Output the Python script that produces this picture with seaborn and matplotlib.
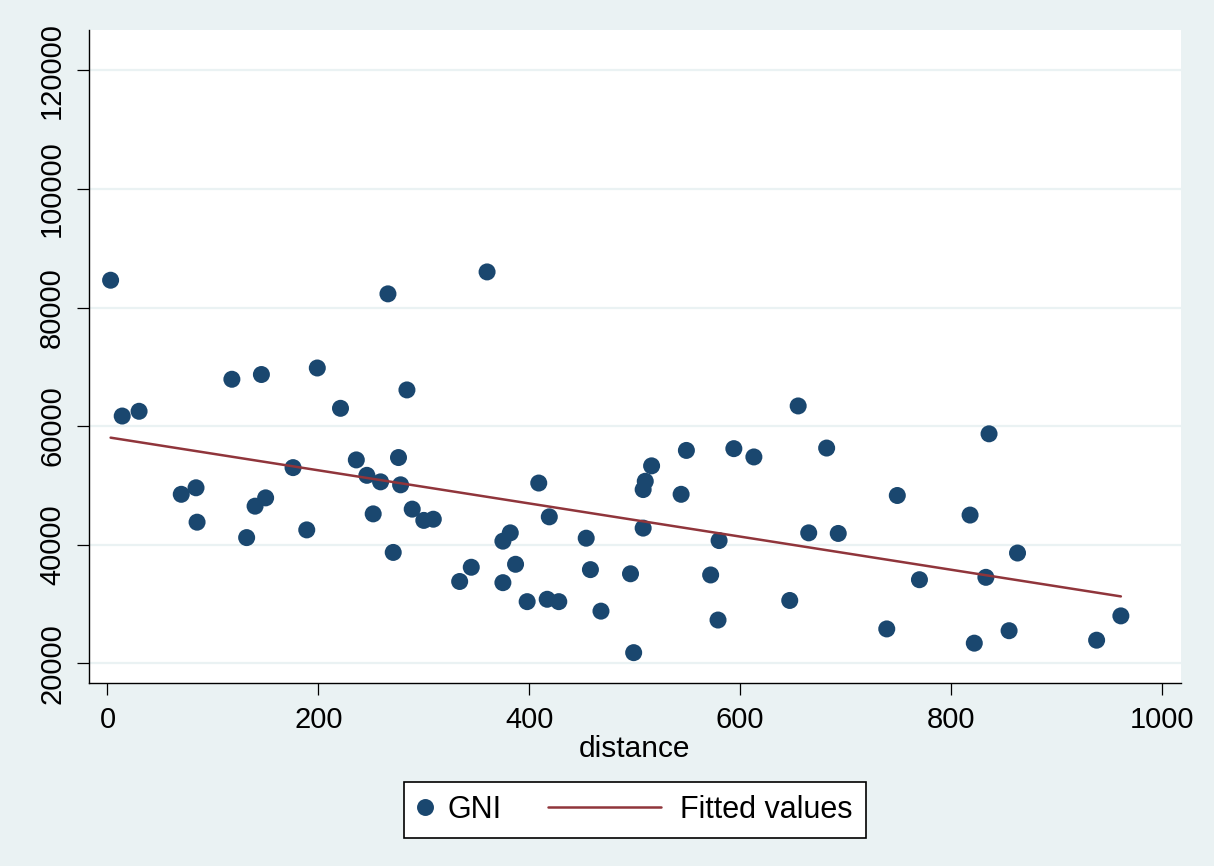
import numpy as np
import pandas as pd
import matplotlib
matplotlib.use("Agg")
import matplotlib.pyplot as plt
import seaborn as sns
from matplotlib.lines import Line2D
from matplotlib.legend_handler import HandlerLine2D

# ---- data ----
distance = [3, 14, 30, 70, 84, 85, 118, 132, 140, 146,
            150, 176, 189, 199, 221, 236, 246, 252, 259, 266,
            271, 276, 278, 284, 289, 300, 309, 334, 345, 360,
            375, 375, 382, 387, 398, 409, 417, 419, 428, 454,
            458, 468, 496, 499, 508, 508, 510, 516, 544, 549,
            572, 579, 580, 594, 613, 647, 655, 665, 682, 693,
            739, 749, 770, 818, 822, 833, 836, 855, 863, 938,
            961]
gni = [84600, 61700, 62500, 48500, 49600, 43800, 67900, 41200, 46500, 68700,
       47900, 53000, 42500, 69800, 63000, 54300, 51700, 45200, 50600, 82300,
       38700, 54700, 50100, 66100, 46000, 44100, 44300, 33800, 36200, 86000,
       40600, 33600, 42000, 36700, 30400, 50400, 30800, 44700, 30400, 41100,
       35800, 28800, 35100, 21800, 49300, 42800, 50700, 53300, 48500, 55900,
       34900, 27300, 40700, 56200, 54800, 30600, 63400, 42000, 56300, 41900,
       25800, 48300, 34100, 45000, 23400, 34500, 58700, 25500, 38600, 23900,
       28000]
x_ticks = [0, 200, 400, 600, 800, 1000]
y_ticks = [20000, 40000, 60000, 80000, 100000, 120000]

df = pd.DataFrame({"distance": distance, "GNI": gni})

BG = "#EAF2F3"
NAVY = "#1A476F"
MAROON = "#90353B"

sns.set_theme(style="white")
plt.rcParams["font.family"] = ["Liberation Sans", "DejaVu Sans"]
plt.rcParams["text.color"] = "black"

fig = plt.figure(figsize=(12.14, 8.66), dpi=100, facecolor=BG)
ax = fig.add_axes([0.0733, 0.2113, 0.8995, 0.7541])
ax.set_facecolor("white")

for yv in y_ticks:
    ax.axhline(yv, color=BG, lw=1.6, zorder=0)

sns.scatterplot(data=df, x="distance", y="GNI", ax=ax, s=150, color=NAVY,
                edgecolor="none", linewidth=0, zorder=3, legend=False)
sns.regplot(data=df, x="distance", y="GNI", ax=ax, scatter=False, ci=None,
            truncate=True, line_kws=dict(color=MAROON, lw=1.8, zorder=4))

ax.set_xlim(-17.5, 1018)
ax.set_ylim(16680, 126800)
ax.set_xticks(x_ticks)
ax.set_yticks(y_ticks)
ax.set_yticklabels([str(v) for v in y_ticks], rotation=90, va="center")
ax.tick_params(axis="both", which="major", direction="out", length=8.5, width=0.9,
               color="black", labelsize=21, labelcolor="black", pad=8,
               bottom=True, left=True)
ax.set_xlabel("distance", fontsize=21.5, color="black", labelpad=1)
ax.set_ylabel("")
for s in ["top", "right"]:
    ax.spines[s].set_visible(False)
for s in ["left", "bottom"]:
    ax.spines[s].set_color("black")
    ax.spines[s].set_linewidth(1.0)
ax.grid(False)


class LongLine(HandlerLine2D):
    def legend_artist(self, legend, orig_handle, fontsize, handlebox):
        handlebox.width = handlebox.width * 7.45
        artist = super().legend_artist(legend, orig_handle, fontsize, handlebox)
        handlebox.width = handlebox.width + 2.5
        return artist


h_pt = Line2D([], [], marker="o", linestyle="none", color=NAVY, markersize=12.2,
              markeredgewidth=0)
h_ln = Line2D([], [], color=MAROON, lw=1.8)
leg = fig.legend([h_pt, h_ln], ["GNI", "Fitted values"], loc="center",
                 bbox_to_anchor=(0.523, 0.065), ncol=2, fontsize=22,
                 frameon=True, fancybox=False, edgecolor="black",
                 facecolor="white", framealpha=1, borderpad=0.43,
                 handlelength=0.5, handletextpad=0.5, columnspacing=1.5,
                 labelcolor="black",
                 handler_map={h_ln: LongLine()})
leg.get_frame().set_linewidth(1.2)

fig.savefig("out.png", dpi=100, facecolor=BG)
